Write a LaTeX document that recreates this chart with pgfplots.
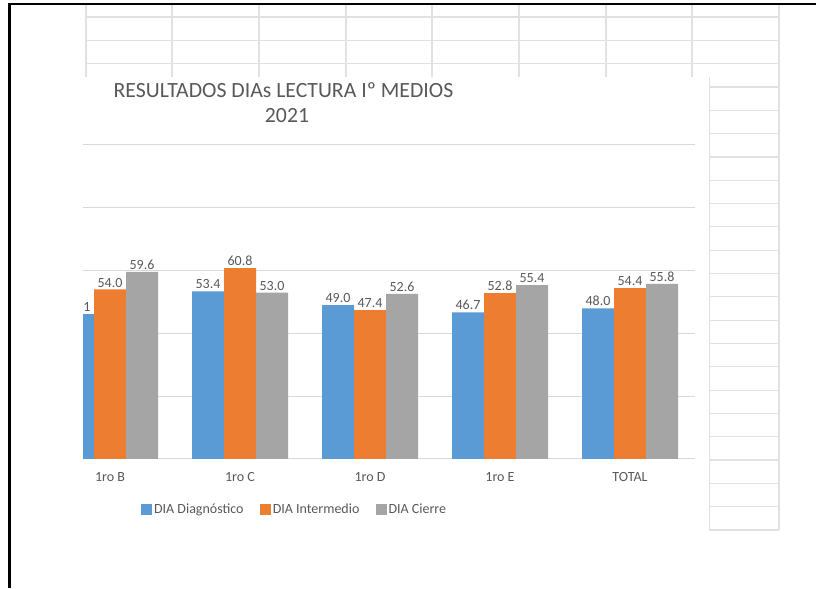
\documentclass[border=0pt]{standalone}
\usepackage{fontspec}
\setmainfont{Carlito}
\usepackage{pgfplots}
\pgfplotsset{compat=1.18}

\definecolor{cblue}{HTML}{5B9BD5}
\definecolor{corange}{HTML}{ED7D31}
\definecolor{cgray}{HTML}{A5A5A5}
\definecolor{ctext}{HTML}{595959}
\definecolor{cgrid}{HTML}{D9D9D9}
\definecolor{ccell}{HTML}{E1E1E1}

\begin{document}
\begin{tikzpicture}
% 1 px of the screenshot = 0.75pt
\useasboundingbox (0pt,0pt) rectangle (612pt,441pt);
\begin{scope}[x=0.75pt,y=0.75pt]
\fill[white] (0,0) rectangle (816,588);

% spreadsheet cells behind the chart
\foreach \xx in {86,172,259,346,432,519,606,692}
  \draw[ccell,line width=0.9pt] (\xx,583) -- (\xx,511);
\draw[ccell,line width=0.9pt] (779,583) -- (779,58);
\draw[ccell,line width=0.9pt] (709,511) -- (709,58);
\foreach \n in {0,1,2}
  \draw[ccell,line width=0.9pt] (86,{571-23.32*\n}) -- (779,{571-23.32*\n});
\foreach \n in {3,...,22}
  \draw[ccell,line width=0.9pt] (709,{571-23.32*\n}) -- (779,{571-23.32*\n});

% chart area
\fill[white] (83,0) rectangle (708.5,511);

% frame of the screenshot
\draw[black,line width=1.6pt] (9.5,0) -- (9.5,584) -- (816,584);

% title
\node[ctext,anchor=base,inner sep=0pt,font=\fontsize{16.3}{19}\selectfont] at (283.5,490) {RESULTADOS DIAs LECTURA Iº MEDIOS};
\node[ctext,anchor=base,inner sep=0pt,font=\fontsize{16.3}{19}\selectfont] at (287,465) {2021};
\end{scope}

\begin{scope}
\clip (62.25pt,0pt) rectangle (531.4pt,383.25pt);
\begin{axis}[
    at={(33.75pt,96.75pt)}, anchor=south west,
    width=487.5pt, height=235.5pt, scale only axis,
    ybar=0pt, bar width=24pt,
    xmin=0.5, xmax=5.5, ymin=0, ymax=100,
    xtick={1,...,5},
    xticklabels={1ro B,1ro C,1ro D,1ro E,TOTAL},
    ytick={0,20,...,100}, yticklabels={},
    major tick length=0pt,
    axis line style={draw=none},
    ymajorgrids, grid style={cgrid,line width=0.75pt},
    tick label style={font=\fontsize{10.5}{12}\selectfont,text=ctext},
    xticklabel style={yshift=-6.8pt},
    nodes near coords,
    every node near coord/.append style={font=\fontsize{10.5}{12}\selectfont,text=ctext,inner sep=1.5pt,
      /pgf/number format/fixed,/pgf/number format/fixed zerofill,/pgf/number format/precision=1,
      /pgf/number format/assume math mode=true},
    legend style={at={(0.384,-0.162)}, anchor=center, draw=none, fill=none,
      font=\fontsize{10.5}{12}\selectfont, text=ctext, legend columns=-1,
      nodes={inner sep=1.3pt},
      /tikz/every even column/.append style={column sep=11pt}},
    legend image code/.code={\fill[#1] (0pt,-4.1pt) rectangle (8.25pt,4.1pt);},
  ]
\addplot[fill=cblue,draw=none] coordinates {(1,46.1) (2,53.4) (3,49.0) (4,46.7) (5,48.0)};
\addplot[fill=corange,draw=none] coordinates {(1,54.0) (2,60.8) (3,47.4) (4,52.8) (5,54.4)};
\addplot[fill=cgray,draw=none] coordinates {(1,59.6) (2,53.0) (3,52.6) (4,55.4) (5,55.8)};
\legend{DIA Diagnóstico,DIA Intermedio,DIA Cierre}
\end{axis}
\end{scope}
\end{tikzpicture}
\end{document}
